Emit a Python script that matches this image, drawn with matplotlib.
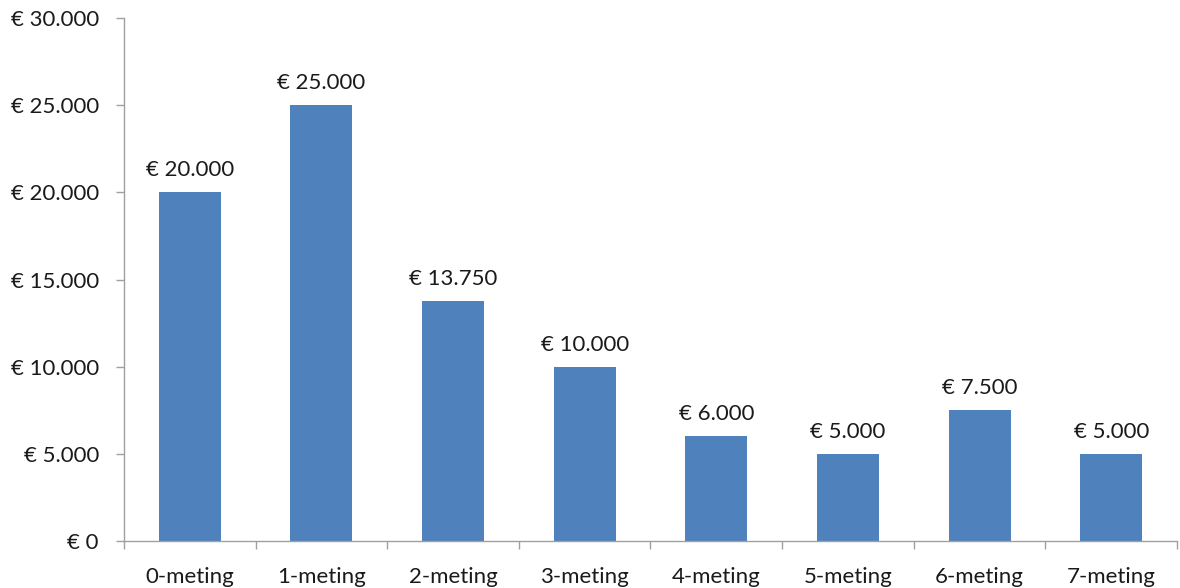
import matplotlib.pyplot as plt
import numpy as np

categories = ['0-meting', '1-meting', '2-meting', '3-meting', '4-meting', '5-meting', '6-meting', '7-meting']
values = [20000, 25000, 13750, 10000, 6000, 5000, 7500, 5000]
yticks = [0, 5000, 10000, 15000, 20000, 25000, 30000]

def euro(v):
    return '€ ' + f'{v:,.0f}'.replace(',', '.')

plt.rcParams['font.family'] = ['Lato', 'DejaVu Sans']
fig = plt.figure(figsize=(11.8, 5.88), dpi=100)
ax = fig.add_axes([0.105, 0.080, 0.8925, 0.889])

x = np.arange(len(categories))
ax.bar(x, values, width=0.47, color='#4F81BD', edgecolor='none')
for xi, v in zip(x, values):
    ax.text(xi, v + 700, euro(v), ha='center', va='bottom', fontsize=16, color='#1a1a1a')

ax.set_xlim(-0.5, len(categories) - 0.5)
ax.set_ylim(0, 30000)
ax.set_yticks(yticks)
ax.set_yticklabels([euro(v) for v in yticks], fontsize=16, color='#1a1a1a')
ax.set_xticks(x)
ax.set_xticklabels(categories, fontsize=16, color='#1a1a1a')
ax.set_xticks(np.arange(-0.5, len(categories)), minor=True)
ax.tick_params(axis='x', which='major', length=0, pad=19)
ax.tick_params(axis='x', which='minor', length=6, color='#a0a0a0', width=1)
ax.tick_params(axis='y', length=6, color='#a0a0a0', width=1, pad=12)

for s in ['top', 'right']:
    ax.spines[s].set_visible(False)
for s in ['left', 'bottom']:
    ax.spines[s].set_color('#a0a0a0')
    ax.spines[s].set_linewidth(1)

fig.savefig('out.png', dpi=100)
